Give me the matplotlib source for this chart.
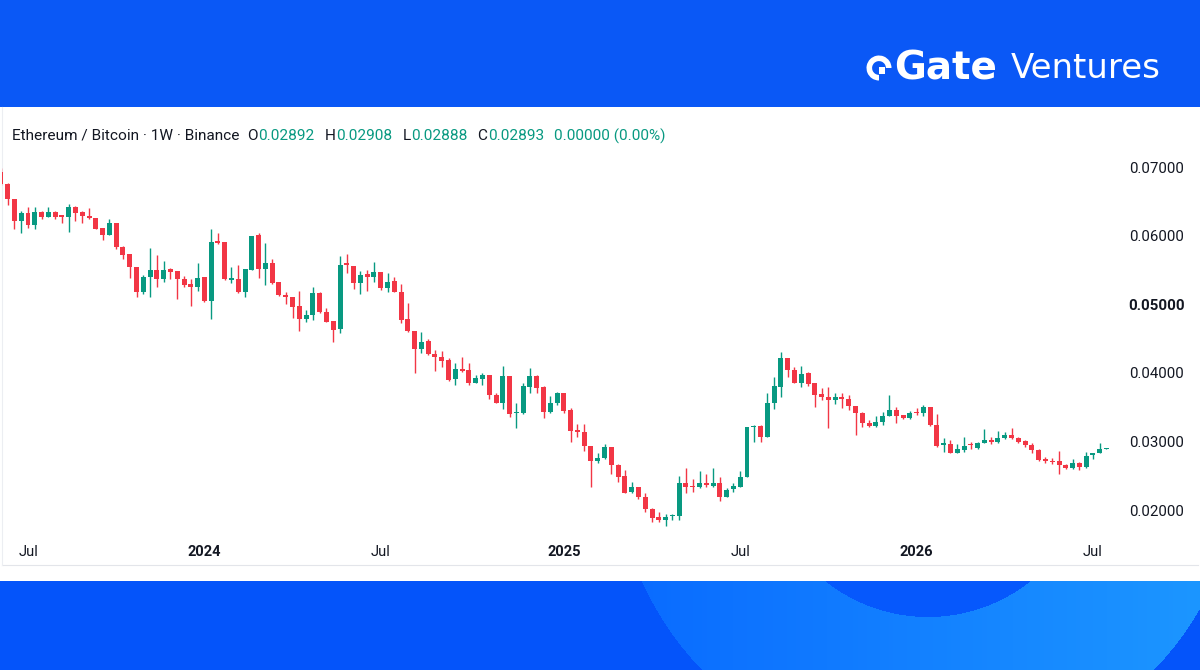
import matplotlib
matplotlib.use('Agg')
import matplotlib.pyplot as plt
import matplotlib.dates as mdates
import numpy as np
from matplotlib.patches import Rectangle, Wedge

# ---------------- data (weekly ETH/BTC, Binance) ----------------
start_week = "2023-06-05"

opens = [
    0.06927, 0.06752, 0.06534, 0.06213, 0.06329, 0.06155, 0.06344, 0.06271, 0.06344, 0.06300,
    0.06271, 0.06417, 0.06344, 0.06286, 0.06257, 0.06111, 0.06009, 0.06184, 0.05834, 0.05732,
    0.05542, 0.05178, 0.05397, 0.05499, 0.05367, 0.05513, 0.05484, 0.05367, 0.05294, 0.05251,
    0.05397, 0.05047, 0.05921, 0.05907, 0.05353, 0.05367, 0.05178, 0.05499, 0.06009, 0.05513,
    0.05601, 0.05324, 0.05134, 0.05105, 0.04974, 0.04784, 0.04843, 0.05163, 0.04886, 0.04755,
    0.04639, 0.05601, 0.05557, 0.05309, 0.05440, 0.05397, 0.05469, 0.05236, 0.05338, 0.05178,
    0.04784, 0.04609, 0.04347, 0.04464, 0.04274, 0.04230, 0.04187, 0.03910, 0.04055, 0.04041,
    0.03851, 0.03910, 0.03968, 0.03676, 0.03560, 0.03953, 0.03414, 0.03414, 0.03793, 0.03953,
    0.03793, 0.03429, 0.03560, 0.03706, 0.03458, 0.03166, 0.03137, 0.02933, 0.02714, 0.02758,
    0.02918, 0.02656, 0.02496, 0.02262, 0.02335, 0.02190, 0.02015, 0.01898, 0.01854, 0.01913,
    0.01913, 0.02394, 0.02350, 0.02335, 0.02394, 0.02350, 0.02394, 0.02190, 0.02306, 0.02335,
    0.02481, 0.03210, 0.03225, 0.03064, 0.03560, 0.03793, 0.04216, 0.04041, 0.03851, 0.03997,
    0.03851, 0.03691, 0.03647, 0.03604, 0.03647, 0.03618, 0.03516, 0.03414, 0.03268, 0.03225,
    0.03283, 0.03370, 0.03458, 0.03385, 0.03341, 0.03429, 0.03414, 0.03502, 0.03239, 0.02948,
    0.02962, 0.02831, 0.02875, 0.02962, 0.02904, 0.02977, 0.03021, 0.02991, 0.03050, 0.03093,
    0.03050, 0.03006, 0.02948, 0.02875, 0.02743, 0.02714, 0.02714, 0.02656, 0.02612, 0.02685,
    0.02627, 0.02802, 0.02831, 0.02892,
]

highs = [
    0.06985, 0.06760, 0.06540, 0.06359, 0.06417, 0.06417, 0.06359, 0.06417, 0.06359, 0.06305,
    0.06461, 0.06431, 0.06359, 0.06402, 0.06260, 0.06115, 0.06242, 0.06188, 0.05848, 0.05735,
    0.05545, 0.05426, 0.05819, 0.05717, 0.05630, 0.05528, 0.05488, 0.05412, 0.05367, 0.05601,
    0.05400, 0.06096, 0.06038, 0.05910, 0.05542, 0.05571, 0.05516, 0.05998, 0.06038, 0.05892,
    0.05659, 0.05328, 0.05178, 0.05109, 0.05192, 0.04915, 0.05251, 0.05178, 0.04945, 0.04759,
    0.05703, 0.05732, 0.05560, 0.05484, 0.05499, 0.05615, 0.05472, 0.05455, 0.05397, 0.05294,
    0.05018, 0.04612, 0.04595, 0.04493, 0.04332, 0.04318, 0.04216, 0.04143, 0.04230, 0.04143,
    0.03968, 0.03997, 0.03972, 0.03706, 0.04099, 0.03956, 0.03560, 0.03851, 0.04070, 0.03968,
    0.03808, 0.03662, 0.03720, 0.03710, 0.03487, 0.03254, 0.03254, 0.02936, 0.02831, 0.02962,
    0.02921, 0.02671, 0.02583, 0.02408, 0.02338, 0.02248, 0.02030, 0.01971, 0.01942, 0.01942,
    0.02496, 0.02612, 0.02452, 0.02569, 0.02525, 0.02612, 0.02481, 0.02321, 0.02394, 0.02569,
    0.03213, 0.03239, 0.03239, 0.03706, 0.03939, 0.04303, 0.04220, 0.04085, 0.04099, 0.04012,
    0.03854, 0.03778, 0.03793, 0.03706, 0.03706, 0.03676, 0.03520, 0.03429, 0.03312, 0.03370,
    0.03429, 0.03676, 0.03502, 0.03388, 0.03443, 0.03487, 0.03531, 0.03505, 0.03400, 0.03050,
    0.03021, 0.02962, 0.03064, 0.02991, 0.02991, 0.03181, 0.03064, 0.03152, 0.03137, 0.03195,
    0.03064, 0.03021, 0.02977, 0.02889, 0.02773, 0.02758, 0.02860, 0.02671, 0.02743, 0.02700,
    0.02846, 0.02834, 0.02977, 0.02908,
]

lows = [
    0.06738, 0.06446, 0.06096, 0.06038, 0.06111, 0.06096, 0.06242, 0.06265, 0.06242, 0.06184,
    0.06053, 0.06213, 0.06184, 0.06242, 0.06090, 0.05936, 0.06005, 0.05805, 0.05659, 0.05382,
    0.05105, 0.05149, 0.05105, 0.05251, 0.05324, 0.05367, 0.05076, 0.05251, 0.04974, 0.05192,
    0.05032, 0.04784, 0.05878, 0.05353, 0.05309, 0.05163, 0.05105, 0.05495, 0.05382, 0.05280,
    0.05294, 0.05120, 0.05003, 0.04799, 0.04609, 0.04741, 0.04770, 0.04872, 0.04737, 0.04449,
    0.04580, 0.05455, 0.05222, 0.05149, 0.05192, 0.05324, 0.05207, 0.05178, 0.05174, 0.04726,
    0.04595, 0.03997, 0.04289, 0.04260, 0.04026, 0.04085, 0.03881, 0.03822, 0.04012, 0.03822,
    0.03848, 0.03822, 0.03618, 0.03557, 0.03472, 0.03356, 0.03195, 0.03400, 0.03706, 0.03706,
    0.03341, 0.03414, 0.03531, 0.03414, 0.02991, 0.03064, 0.02860, 0.02335, 0.02685, 0.02743,
    0.02525, 0.02408, 0.02245, 0.02245, 0.02160, 0.01971, 0.01825, 0.01825, 0.01767, 0.01854,
    0.01854, 0.02248, 0.02262, 0.02321, 0.02335, 0.02335, 0.02131, 0.02187, 0.02262, 0.02332,
    0.02478, 0.02991, 0.02991, 0.03061, 0.03472, 0.03647, 0.03939, 0.03848, 0.03793, 0.03808,
    0.03502, 0.03604, 0.03195, 0.03545, 0.03487, 0.03458, 0.03093, 0.03210, 0.03210, 0.03210,
    0.03239, 0.03367, 0.03268, 0.03327, 0.03327, 0.03385, 0.03370, 0.03225, 0.02918, 0.02846,
    0.02828, 0.02828, 0.02846, 0.02889, 0.02889, 0.02974, 0.02962, 0.02977, 0.03035, 0.03035,
    0.02977, 0.02918, 0.02831, 0.02714, 0.02685, 0.02671, 0.02525, 0.02598, 0.02598, 0.02583,
    0.02612, 0.02743, 0.02828, 0.02888,
]

closes = [
    0.06752, 0.06534, 0.06213, 0.06329, 0.06155, 0.06344, 0.06271, 0.06344, 0.06271, 0.06271,
    0.06417, 0.06329, 0.06286, 0.06257, 0.06096, 0.06009, 0.06184, 0.05834, 0.05717, 0.05542,
    0.05178, 0.05397, 0.05499, 0.05367, 0.05499, 0.05469, 0.05367, 0.05280, 0.05251, 0.05382,
    0.05047, 0.05907, 0.05892, 0.05367, 0.05382, 0.05178, 0.05513, 0.05994, 0.05513, 0.05601,
    0.05309, 0.05134, 0.05105, 0.04959, 0.04784, 0.04843, 0.05163, 0.04886, 0.04741, 0.04624,
    0.05571, 0.05571, 0.05309, 0.05426, 0.05397, 0.05469, 0.05236, 0.05324, 0.05178, 0.04770,
    0.04609, 0.04347, 0.04449, 0.04274, 0.04230, 0.04172, 0.03895, 0.04055, 0.04026, 0.03851,
    0.03924, 0.03968, 0.03676, 0.03560, 0.03953, 0.03400, 0.03429, 0.03808, 0.03953, 0.03778,
    0.03429, 0.03560, 0.03706, 0.03443, 0.03152, 0.03137, 0.02933, 0.02714, 0.02758, 0.02918,
    0.02656, 0.02481, 0.02248, 0.02335, 0.02190, 0.02015, 0.01883, 0.01854, 0.01898, 0.01927,
    0.02394, 0.02335, 0.02335, 0.02394, 0.02365, 0.02394, 0.02190, 0.02292, 0.02350, 0.02481,
    0.03210, 0.03225, 0.03064, 0.03560, 0.03808, 0.04216, 0.04041, 0.03851, 0.03983, 0.03837,
    0.03676, 0.03647, 0.03604, 0.03647, 0.03618, 0.03516, 0.03414, 0.03268, 0.03225, 0.03283,
    0.03370, 0.03458, 0.03370, 0.03341, 0.03414, 0.03414, 0.03502, 0.03239, 0.02933, 0.02977,
    0.02831, 0.02889, 0.02933, 0.02948, 0.02977, 0.03021, 0.02991, 0.03050, 0.03093, 0.03050,
    0.02991, 0.02948, 0.02875, 0.02729, 0.02714, 0.02700, 0.02656, 0.02612, 0.02685, 0.02627,
    0.02787, 0.02831, 0.02889, 0.02893,
]

tick_dates = ["2023-07-03", "2024-01-01", "2024-07-01", "2025-01-06",
              "2025-07-07", "2026-01-05", "2026-07-06"]
tick_labels = ["Jul", "2024", "Jul", "2025", "Jul", "2026", "Jul"]
y_ticks = [0.02, 0.03, 0.04, 0.05, 0.06, 0.07]

header_title = "Ethereum / Bitcoin · 1W · Binance"
header_vals = [("O", "0.02892"), ("H", "0.02908"), ("L", "0.02888"), ("C", "0.02893")]
header_change = "0.00000 (0.00%)"

# ---------------- styling ----------------
UP = "#089981"
DOWN = "#f23645"
TXT = "#131722"
BLUE = "#0a58f6"

plt.rcParams['font.family'] = ['Roboto', 'DejaVu Sans']

W, H = 1200, 670
fig = plt.figure(figsize=(12, 6.7), dpi=100)
fig.patch.set_facecolor("white")
renderer = fig.canvas.get_renderer()

bg = fig.add_axes([0, 0, 1, 1], zorder=0)
bg.set_xlim(0, W)
bg.set_ylim(H, 0)
bg.axis("off")


def px_width(txt):
    bb = txt.get_window_extent(renderer=renderer)
    return bb.width


bg.add_patch(Rectangle((0, 0), W, 107, color=BLUE, lw=0))

# bottom banner with ring-shaped gradient
y0b = 581
rows = H - y0b
xx = np.arange(W) + 0.5
yy = y0b + np.arange(rows) + 0.5
XX, YY = np.meshgrid(xx, yy)
R = np.hypot(XX - 928, YY - 452)
img = np.zeros((rows, W, 3))
img[:] = np.array([4, 84, 250]) / 255
t = np.clip((XX - 640) / 560, 0, 1)[..., None]
light0 = np.array([10, 108, 255]) / 255
light1 = np.array([28, 150, 255]) / 255
ring = ((R > 165) & (R < 314))[..., None]
img = np.where(ring, light0 + t * (light1 - light0), img)
img = np.where((R <= 165)[..., None], np.array([6, 88, 252]) / 255, img)
bg.imshow(img, extent=(0, W, H, y0b), origin="upper", aspect="auto",
          interpolation="bilinear", zorder=1)
bg.set_xlim(0, W)
bg.set_ylim(H, 0)

# screenshot frame
bg.plot([2, 1198], [565, 565], color="#e3e5ea", lw=0.8, zorder=2)
bg.plot([2, 2], [107, 565], color="#eceef2", lw=0.8, zorder=2)

# logo
icx, icy = 879, 68
bg.add_patch(Wedge((icx, icy), 12.5, 90, 360, width=5.6, color="white", lw=0, zorder=3))
bg.add_patch(Rectangle((icx, icy - 0.6), 6.2, 6.2, color="white", lw=0, zorder=3))
tg = bg.text(894, 68, "Gate", color="white", fontsize=28, fontweight="bold",
             family=["DejaVu Sans"], ha="left", va="center", zorder=3)
gw = px_width(tg)
bg.text(894 + gw + 14, 68, "Ventures", color="white", fontsize=24.5,
        family=["DejaVu Sans"], ha="left", va="center", zorder=3)

# header line (flowing)
hy = 136
hfs = 11.1
cx = 12
tt = bg.text(cx, hy, header_title, color=TXT, fontsize=hfs, ha="left", va="center")
cx += px_width(tt) + 8
for lbl, val in header_vals:
    t1 = bg.text(cx, hy, lbl, color=TXT, fontsize=hfs, ha="left", va="center")
    cx += px_width(t1) + 0.5
    t2 = bg.text(cx, hy, val, color=UP, fontsize=hfs, ha="left", va="center")
    cx += px_width(t2) + 10
bg.text(cx, hy, header_change, color=UP, fontsize=hfs, ha="left", va="center")

# ---------------- main chart ----------------
left_px, right_px, top_px, bot_px = 2, 1112, 152, 532
ax = fig.add_axes([left_px / W, 1 - bot_px / H, (right_px - left_px) / W,
                   (bot_px - top_px) / H], zorder=2)
ax.set_facecolor("none")

o = np.array(opens)
h = np.array(highs)
l = np.array(lows)
c = np.array(closes)
n = len(o)
d0 = np.datetime64(start_week)
dates = d0 + np.arange(n) * np.timedelta64(7, "D")
x = mdates.date2num(dates.astype("datetime64[s]").astype(object))

up = c >= o
cols = np.where(up, UP, DOWN)
ax.vlines(x, l, h, colors=cols, linewidth=1.0, zorder=2)
bottoms = np.minimum(o, c)
heights = np.maximum(np.abs(c - o), 0.00012)
ax.bar(x, heights, bottom=bottoms, width=5.15, color=cols, linewidth=0, zorder=3)

x0 = mdates.date2num(np.datetime64(start_week, "s").astype(object))
px_per_week = 6.783
ax.set_xlim(x0 + (left_px - 0.87) / px_per_week * 7, x0 + (right_px - 0.87) / px_per_week * 7)
ax.set_ylim(0.016793, 0.072187)

for s in ax.spines.values():
    s.set_visible(False)

tx = [mdates.date2num(np.datetime64(d, "s").astype(object)) for d in tick_dates]
ax.set_xticks(tx)
ax.set_xticklabels(tick_labels)
for lab in ax.get_xticklabels():
    lab.set_fontsize(10.5)
    lab.set_color(TXT)
    if lab.get_text() != "Jul":
        lab.set_fontweight("bold")
ax.tick_params(axis="x", length=0, pad=9)

ax.yaxis.tick_right()
ax.set_yticks(y_ticks)
ax.set_yticklabels([f"{v:.5f}" for v in y_ticks])
for v, lab in zip(y_ticks, ax.get_yticklabels()):
    lab.set_fontsize(10.8)
    lab.set_color(TXT)
    if abs(v - 0.05) < 1e-9:
        lab.set_fontweight("bold")
ax.tick_params(axis="y", length=0, pad=12)
ax.grid(False)

fig.savefig("out.png", dpi=100, facecolor="white")
